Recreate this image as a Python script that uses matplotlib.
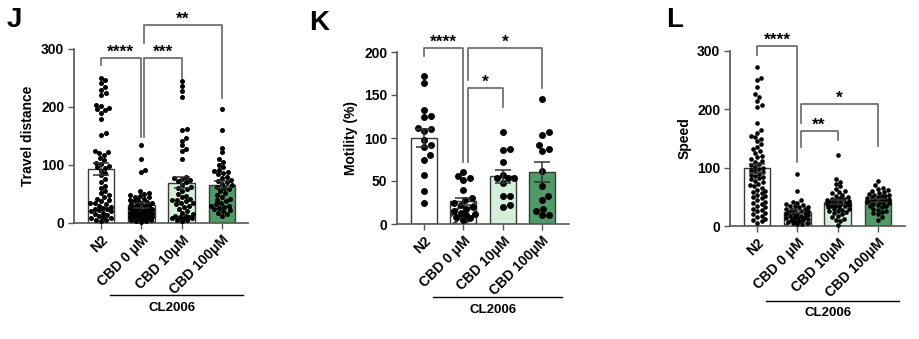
import numpy as np
import matplotlib
matplotlib.use("Agg")
import matplotlib.pyplot as plt
from matplotlib.transforms import blended_transform_factory

plt.rcParams['font.family'] = ['Liberation Sans', 'DejaVu Sans']
plt.rcParams['font.weight'] = 'bold'
plt.rcParams['hatch.linewidth'] = 2.0

# ---------------- data ----------------
categories = ['N2', 'CBD 0 μM', 'CBD 10μM', 'CBD 100μM']
group_label = 'CL2006'

travel_n2 = [250, 246, 241, 235, 230, 224, 221, 204, 201, 198, 196, 194, 190, 180, 155, 152,
             125, 122, 120, 118, 112, 108, 104, 101, 98, 96, 94, 90, 86, 82,
             76, 70, 64, 60, 56, 52, 48, 45, 42, 40, 38, 35, 33, 30, 28, 26, 24, 22, 20, 18,
             16, 14, 12, 10, 9, 8, 6, 5, 4, 35, 25, 20]
travel_cbd0 = [135, 110, 92, 88, 55, 52, 50, 48, 45, 42, 40, 38, 36, 35, 33, 32, 30, 28, 27, 25,
               24, 22, 21, 20, 19, 18, 17, 16, 15, 14, 13, 12, 11, 10, 9, 8, 7, 6, 5, 4, 3, 2,
               30, 26, 20, 15, 10, 44, 35, 40, 22, 18, 12, 46]
travel_cbd10 = [244, 236, 228, 217, 162, 160, 146, 142, 134, 128, 124, 110, 80, 78, 76, 74, 70,
                66, 62, 58, 55, 50, 46, 42, 40, 38, 35, 32, 30, 28, 25, 20, 15, 12, 10, 8, 8, 6,
                5, 4, 10, 12, 35, 40, 45, 8, 18, 60, 72]
travel_cbd100 = [197, 160, 130, 122, 110, 105, 100, 96, 92, 90, 88, 86, 84, 80, 78, 75, 72, 70,
                 68, 65, 62, 58, 55, 52, 48, 45, 42, 40, 38, 35, 32, 30, 28, 26, 24, 22, 20, 18,
                 15, 12, 30, 60]

motility_n2 = [172, 164, 133, 126, 124, 112, 111, 108, 98, 92, 89, 80, 75, 57, 38, 24]
motility_cbd0 = [61, 56, 53, 51, 39, 30, 25, 20, 18, 15, 12, 10, 8, 7, 5, 22, 13, 28]
motility_cbd10 = [107, 86, 87, 72, 53, 48, 53, 53, 32, 32, 20, 22, 57]
motility_cbd100 = [145, 107, 104, 92, 85, 87, 62, 44, 33, 28, 18, 15, 10, 10]

speed_n2 = [273, 254, 250, 238, 226, 222, 215, 207, 204,
            176, 165, 160, 155, 152, 150, 145, 140, 136, 132, 128, 125, 120, 118, 115, 112, 110,
            106, 104, 102, 100,
            98, 96, 94, 92, 90, 88, 86, 84, 82, 80, 78, 75, 72, 70, 68, 65, 62, 60, 58, 56, 54,
            52, 50,
            48, 45, 42, 40, 38, 35, 32, 30, 28, 25, 22, 20, 18, 15, 12, 10, 8, 5]
speed_cbd0 = [90, 60, 45, 42, 40, 38, 36, 35, 34, 33, 32, 30, 29, 28, 27, 26, 25, 24, 23, 22,
              21, 20, 19, 18, 17, 16, 15, 14, 13, 12, 11, 10, 9, 8, 7, 6, 5, 4, 3]
speed_cbd10 = [122, 80, 76, 72, 68, 64, 60, 58, 56, 54, 52, 50, 48, 47, 46, 45, 44, 43, 42, 41,
               40, 39, 38, 37, 36, 35, 34, 33, 32, 30, 28, 26, 24, 22, 20, 18, 15, 12, 8, 2,
               10, 25, 30, 35, 40]
speed_cbd100 = [78, 70, 66, 64, 62, 60, 58, 56, 55, 54, 53, 52, 51, 50, 49, 48, 47, 46, 45, 44,
                43, 42, 41, 40, 39, 38, 36, 35, 34, 32, 30, 28, 26, 24, 22, 20, 15, 10]

# significance brackets: (x_left, x_right, y, left_leg_end, right_leg_end, label)
travel_sig = [(0, 0.98, 285, 272, 148, '****'),
              (1.07, 2, 285, 148, 250, '***'),
              (1.07, 3, 341, 310, 215, '**')]
motility_sig = [(0, 0.985, 205, 195, 72, '****'),
                (1.11, 3, 205, 167, 158, '*'),
                (1.11, 2, 158, 72, 136, '*')]
speed_sig = [(0, 0.99, 308, 293, 110, '****'),
             (1.08, 2, 163, 136, 147, '**'),
             (1.08, 3, 209, 176, 138, '*')]

# ---------------- style ----------------
bar_colors = ['white', 'white', '#d5f0da', '#4f9a66']
bar_hatch = [None, '///', None, None]
edge = '#3a3a3a'
axis_col = '#555555'
W, H = 920, 339

fig = plt.figure(figsize=(W / 100, H / 100), dpi=100)


def swarm_x(ax, vals, xc, diam_px, max_half_px):
    bbox = ax.get_window_extent()
    x0, x1 = ax.get_xlim()
    y0, y1 = ax.get_ylim()
    sx = bbox.width / (x1 - x0)
    sy = bbox.height / (y1 - y0)
    vals = np.asarray(vals, float)
    order = np.argsort(vals, kind='stable')
    step = diam_px * 0.2
    cands = [0.0]
    k = 1
    while k * step <= max_half_px:
        cands += [k * step, -k * step]
        k += 1
    placed = []
    offs = np.zeros(len(vals))
    lim = (diam_px * 0.92) ** 2
    for i in order:
        y = vals[i] * sy
        chosen = None
        for c in cands:
            if all((c - px) ** 2 + (y - py) ** 2 >= lim for px, py in placed):
                chosen = c
                break
        if chosen is None:
            chosen = max(cands, key=lambda c: min((c - px) ** 2 + (y - py) ** 2 for px, py in placed))
        placed.append((chosen, y))
        offs[i] = chosen / sx
    return xc + offs


def panel(rect_px, xlim, ylim, yticks, ylabel, groups, sig, dot_px, dot_s, letter, letter_pos,
          line_y, text_y):
    left, top, right, bottom = rect_px
    ax = fig.add_axes([left / W, 1 - bottom / H, (right - left) / W, (bottom - top) / H])
    ax.set_xlim(*xlim)
    ax.set_ylim(*ylim)
    x = np.arange(len(categories))
    means = [np.mean(g) for g in groups]
    sems = [np.std(g, ddof=1) / np.sqrt(len(g)) for g in groups]
    for i in range(len(categories)):
        ax.bar(x[i], means[i], width=0.66, color=bar_colors[i], edgecolor=edge,
               linewidth=1.0, hatch=bar_hatch[i], zorder=1)
        xs = swarm_x(ax, groups[i], x[i], dot_px, 11.5)
        ax.scatter(xs, groups[i], s=dot_s, color='black', linewidths=0, zorder=3, clip_on=False)
    ax.errorbar(x, means, yerr=sems, fmt='none', ecolor='#333333', elinewidth=1.1,
                capsize=6, capthick=1.1, zorder=4)
    for (xa, xb, y, ya, yb, lab) in sig:
        ax.plot([xa, xa, xb, xb], [ya, y, y, yb], color='#666666', lw=1.2,
                clip_on=False, zorder=2)
        ax.annotate(lab, xy=((xa + xb) / 2, y), xytext=(0, 0.8), textcoords='offset points',
                    ha='center', va='baseline', fontsize=12.5, fontweight='bold',
                    annotation_clip=False)
    for s in ['top', 'right']:
        ax.spines[s].set_visible(False)
    for s in ['left', 'bottom']:
        ax.spines[s].set_color(axis_col)
        ax.spines[s].set_linewidth(1.2)
    ax.set_yticks(yticks)
    ax.set_yticklabels([str(t) for t in yticks], fontsize=10, fontweight='bold')
    ax.set_xticks(x)
    ax.set_xticklabels(categories, rotation=45, ha='right', rotation_mode='anchor',
                       fontsize=10, fontweight='bold')
    ax.tick_params(axis='both', length=4, width=1, color=axis_col, pad=3)
    ax.set_ylabel(ylabel, fontsize=10, fontweight='bold', labelpad=4)
    trans = blended_transform_factory(ax.transData, ax.transAxes)
    ax.plot([0.22, 3.52], [line_y, line_y], transform=trans, color='black', lw=1.0,
            clip_on=False)
    ax.text(1.75, text_y, group_label, transform=trans, ha='center', va='center',
            fontsize=9.5, fontweight='bold')
    fig.text(letter_pos[0] / W, 1 - letter_pos[1] / H, letter, fontsize=20,
             fontweight='bold', ha='left', va='top')
    return ax


panel((74, 49, 248, 223), (-0.67, 3.645), (0, 300), [0, 100, 200, 300], 'Travel distance',
      [travel_n2, travel_cbd0, travel_cbd10, travel_cbd100], travel_sig, 5.0, 13,
      'J', (7, 7), -0.414, -0.49)
panel((397, 52, 569, 224), (-0.687, 3.687), (0, 200), [0, 50, 100, 150, 200], 'Motility (%)',
      [motility_n2, motility_cbd0, motility_cbd10, motility_cbd100], motility_sig, 7.0, 25,
      'K', (309, 10), -0.424, -0.5)
panel((730, 51, 905, 226), (-0.67, 3.67), (0, 300), [0, 100, 200, 300], 'Speed',
      [speed_n2, speed_cbd0, speed_cbd10, speed_cbd100], speed_sig, 4.6, 11,
      'L', (666, 7), -0.43, -0.497)

fig.savefig('out.png', dpi=100)
